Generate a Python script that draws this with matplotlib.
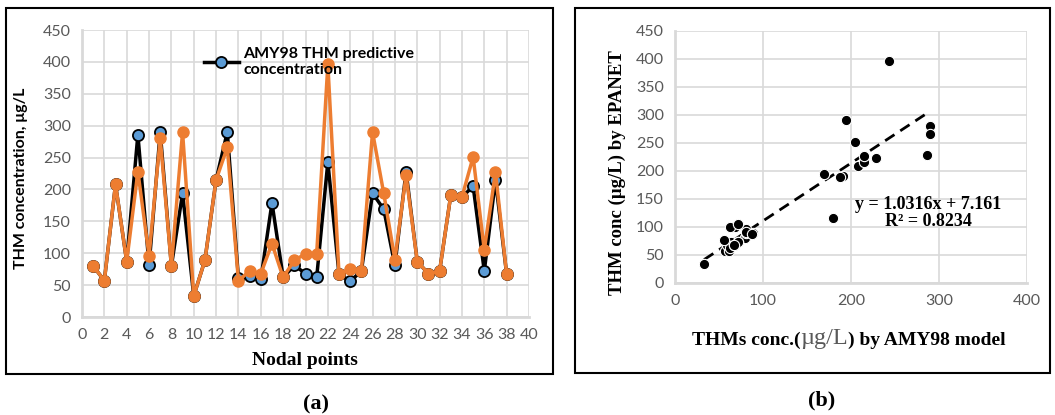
import numpy as np
import matplotlib
matplotlib.use("Agg")
import matplotlib.pyplot as plt
from matplotlib.patches import Rectangle

# -----------------------------------------
# DATA
# -----------------------------------------
nodes = list(range(1, 39))
amy98 = [80, 57, 208, 87, 286, 81, 290, 80, 194, 33,
         89, 215, 290, 61, 64, 59, 179, 62, 81, 68,
         62, 243, 67, 56, 72, 194, 169, 81, 228, 87,
         68, 72, 191, 188, 205, 72, 215, 67]
epanet = [80, 57, 208, 87, 228, 96, 280, 80, 290, 33,
          89, 215, 266, 57, 72, 68, 115, 62, 89, 99,
          99, 396, 67, 76, 72, 290, 194, 90, 222, 87,
          68, 72, 191, 188, 251, 105, 227, 67]
fit_slope = 1.0316
fit_intercept = 7.161
fit_r2 = 0.8234

# -----------------------------------------
# STYLE
# -----------------------------------------
W, H = 1055, 415
TICK_FONT = "Lato"
TICK_COLOR = "#595959"
GRID_COLOR = "#d9d9d9"
BLUE = "#5b9bd5"
ORANGE = "#ed7d31"


def style_axes(ax):
    for s in ["top", "right"]:
        ax.spines[s].set_visible(False)
    for s in ["left", "bottom"]:
        ax.spines[s].set_color(GRID_COLOR)
        ax.spines[s].set_linewidth(2)
    ax.grid(True, color=GRID_COLOR, lw=1.2)
    ax.set_axisbelow(True)
    ax.tick_params(length=0, labelsize=11.5, labelcolor=TICK_COLOR, pad=8)
    for lab in ax.get_xticklabels() + ax.get_yticklabels():
        lab.set_fontfamily(TICK_FONT)


fig = plt.figure(figsize=(W / 100, H / 100), dpi=100)

# frames around both panels
fig.patches.append(Rectangle((6 / W, 1 - 374 / H), 547 / W, 366 / H,
                             transform=fig.transFigure, fill=False,
                             ec="black", lw=1.5))
fig.patches.append(Rectangle((575 / W, 1 - 373 / H), 475 / W, 365 / H,
                             transform=fig.transFigure, fill=False,
                             ec="black", lw=1.5))

# ----------------------------------------------------------
# (a) LINE CHART
# ----------------------------------------------------------
ax1 = fig.add_axes([82 / W, 1 - 317 / H, 447 / W, 287 / H])
ax1.plot(nodes, amy98, color="black", lw=2.5, marker="o", ms=8,
         mfc=BLUE, mec="black", mew=1.3,
         label="AMY98 THM predictive\nconcentration")
ax1.plot(nodes, epanet, color=ORANGE, lw=2.5, marker="o", ms=8,
         mfc=ORANGE, mec=ORANGE)
ax1.set_xlim(0, 40)
ax1.set_ylim(0, 450)
ax1.set_xticks(range(0, 41, 2))
ax1.set_yticks(range(0, 451, 50))
style_axes(ax1)
ax1.set_ylabel("THM concentration, μg/L", fontfamily="Lato",
               fontweight="bold", fontsize=11.5)
ax1.yaxis.set_label_coords((21 - 82) / 447, (317 - 178) / 287)
ax1.yaxis.label.set_va("center")
ax1.set_xlabel("Nodal points", fontfamily="Liberation Serif",
               fontweight="bold", fontsize=14)
ax1.xaxis.set_label_coords((305 - 82) / 447, -(360 - 317) / 287)
ax1.xaxis.label.set_va("center")
leg = ax1.legend(loc="upper left", bbox_to_anchor=(0.24, 0.99),
                 frameon=False, handlelength=2.2, handletextpad=0.3,
                 prop={"family": "Lato", "weight": "bold", "size": 11.5})

fig.text(316 / W, 1 - 404 / H, "(a)", family="Liberation Serif",
         weight="bold", fontsize=16, ha="center", va="center")

# ----------------------------------------------------------
# (b) SCATTER + TRENDLINE
# ----------------------------------------------------------
ax2 = fig.add_axes([675 / W, 1 - 282.7 / H, 352 / W, 252 / H])
ax2.scatter(amy98, epanet, s=55, color="black", edgecolor="white",
            linewidth=0.8, zorder=3)
xs = np.array([min(amy98), max(amy98)])
ax2.plot(xs, fit_slope * xs + fit_intercept, color="black", lw=2,
         ls=(0, (4, 2.5)), zorder=2)
ax2.set_xlim(0, 400)
ax2.set_ylim(0, 450)
ax2.set_xticks(range(0, 401, 100))
ax2.set_yticks(range(0, 451, 50))
style_axes(ax2)
ax2.set_ylabel("THM conc (µg/L) by EPANET", fontfamily="Liberation Serif",
               fontweight="bold", fontsize=13.5)
ax2.yaxis.set_label_coords(-(675 - 617) / 352, (282.7 - 173) / 252)
ax2.yaxis.label.set_va("center")

ax2.text((928 - 675) / 352, (282.7 - 213) / 252,
         "y = %.4fx + %.3f\nR² = %.4f" % (fit_slope, fit_intercept, fit_r2),
         transform=ax2.transAxes, family="Liberation Serif", weight="bold",
         fontsize=13, ha="center", va="center", linespacing=1.05)

# x label in three pieces (unit drawn larger and grey)
t1 = fig.text(692 / W, 1 - 345 / H, "THMs conc.(", family="Liberation Serif",
              weight="bold", fontsize=14, ha="left", va="baseline")
t2 = ax2.annotate("µg/L", xy=(1, 0), xycoords=t1, va="bottom", ha="left",
                  family="Liberation Serif", fontsize=17.5, color="#595959")
t3 = ax2.annotate(") by AMY98 model", xy=(1, 0), xycoords=t2, va="bottom",
                  ha="left", family="Liberation Serif", weight="bold",
                  fontsize=14)

fig.text(822 / W, 1 - 400 / H, "(b)", family="Liberation Serif",
         weight="bold", fontsize=16, ha="center", va="center")

fig.savefig("out.png", dpi=100)
